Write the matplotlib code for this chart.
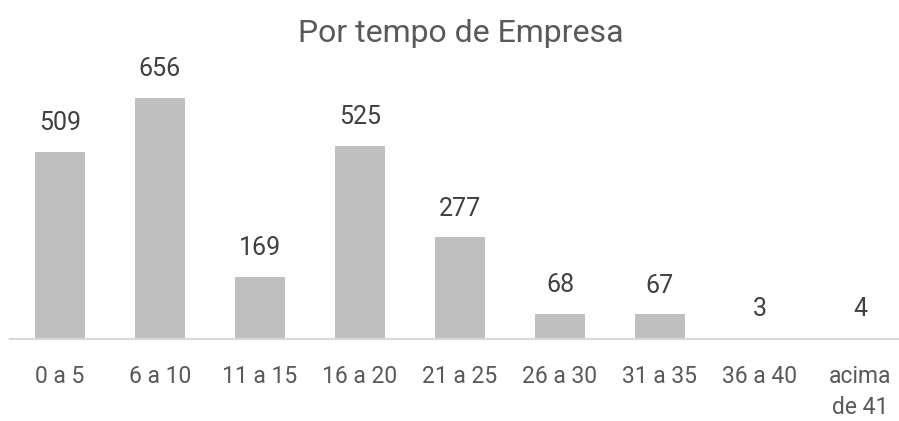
import matplotlib.pyplot as plt

categories = ['0 a 5', '6 a 10', '11 a 15', '16 a 20', '21 a 25',
              '26 a 30', '31 a 35', '36 a 40', 'acima\nde 41']
values = [509, 656, 169, 525, 277, 68, 67, 3, 4]

plt.rcParams['font.family'] = ['Roboto', 'DejaVu Sans']

fig = plt.figure(figsize=(8.99, 4.21), dpi=100)
ax = fig.add_axes([10 / 899, 82 / 421, 889 / 899, 279 / 421])

x = range(len(categories))
bars = ax.bar(x, values, width=0.5, color='#bfbfbf')

# value labels above each bar
for rect, v in zip(bars, values):
    ax.annotate(str(v), (rect.get_x() + rect.get_width() / 2, rect.get_height()),
                xytext=(0, 12), textcoords='offset points',
                ha='center', va='bottom', fontsize=18, color='#404040')

ax.set_xlim(-0.5, 8.39)
ax.set_ylim(0, 759)
ax.set_xticks(list(x))
ax.set_xticklabels(categories, fontsize=16.5, color='#595959', linespacing=1.45)
ax.tick_params(axis='x', length=0, pad=19)
ax.set_yticks([])

for side in ['top', 'right', 'left']:
    ax.spines[side].set_visible(False)
ax.spines['bottom'].set_color('#d9d9d9')
ax.spines['bottom'].set_linewidth(1.5)

fig.text(461 / 899, 1 - 33 / 421, 'Por tempo de Empresa', ha='center', va='center',
         fontsize=23, color='#595959')

fig.savefig('out.png', dpi=100)
